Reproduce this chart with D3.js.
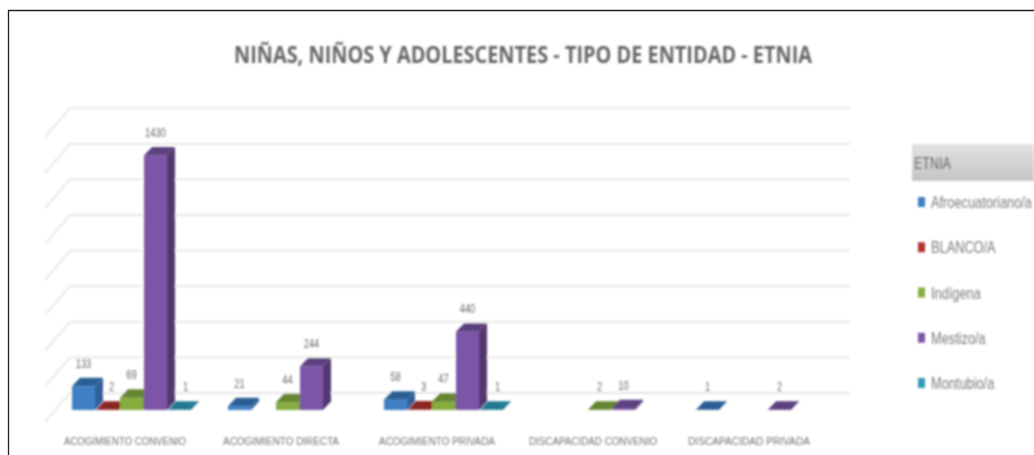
<!DOCTYPE html>
<html><head><meta charset="utf-8">
<script src="https://cdn.jsdelivr.net/npm/d3@7"></script>
<style>html,body{margin:0;padding:0;background:#fff;overflow:hidden}svg{display:block}</style>
</head><body>
<script>
const categories = ["ACOGIMIENTO CONVENIO","ACOGIMIENTO DIRECTA","ACOGIMIENTO PRIVADA","DISCAPACIDAD CONVENIO","DISCAPACIDAD PRIVADA"];
const seriesNames = ["Afroecuatoriano/a","BLANCO/A","Indígena","Mestizo/a","Montubio/a"];
const afro = [133,21,58,null,1];
const blanco = [2,null,3,null,null];
const indigena = [69,44,47,2,null];
const mestizo = [1430,244,440,10,2];
const montubio = [1,null,1,null,null];
const titleText = "NIÑAS, NIÑOS Y ADOLESCENTES - TIPO DE ENTIDAD - ETNIA";
const legendTitle = "ETNIA";
const gridValues = [0,200,400,600,800,1000,1200,1400,1600];
const frontColors = ["#3f7fc4","#b5332e","#86ad3f","#7d55a8","#2f9db8"];
const topColors = ["#2c5f96","#8c2622","#668530","#5d3f80","#237a90"];
const sideColors = ["#2f6199","#8a2724","#668331","#523770","#237488"];
const labelShift = [-3,1,-3,-3,3];

const W=1034,H=455, depthX=8, depthY=17;
const svg=d3.select("body").append("svg").attr("width",W).attr("height",H);
const defs=svg.append("defs");
defs.append("filter").attr("id","soft").attr("x","-5%").attr("y","-5%").attr("width","110%").attr("height","110%")
  .append("feGaussianBlur").attr("stdDeviation",0.85);
const hg=defs.append("linearGradient").attr("id","hdr").attr("x1",0).attr("x2",0).attr("y1",0).attr("y2",1);
hg.append("stop").attr("offset",0).attr("stop-color","#e2e2e2");
hg.append("stop").attr("offset",1).attr("stop-color","#c4c4c4");

svg.append("path").attr("d",`M8.5,${H}V10.5H${W}`).attr("fill","none").attr("stroke","#222").attr("stroke-width",1.3);
const g=svg.append("g").attr("filter","url(#soft)");

const x=d3.scaleBand().domain(categories).range([47,827]);
const inner=d3.scaleBand().domain(seriesNames).range([0,120]);
const y=d3.scaleLinear().domain([0,1600]).range([410,125.2]);
const barX=c=>x(c)+x.bandwidth()/2-53;
const narrow="'Liberation Sans',sans-serif";
// condensed look for real text: horizontal scale about the text's own anchor
const placed=(sel,fx,fy,k)=>sel.attr("transform",(d,i)=>`translate(${fx(d,i)},${fy(d,i)}) scale(${k},1)`);

g.selectAll(".grid").data(gridValues).join("path").attr("fill","none").attr("stroke","#e6e6e6").attr("stroke-width",1.8)
  .attr("d",v=>`M45,${y(v)+12}L70,${y(v)-depthY}H850`);

g.append("text").attr("x",523).attr("y",63).attr("text-anchor","middle").attr("fill","#666")
  .attr("font-family","'Open Sans',sans-serif").attr("font-size",23).attr("font-weight","bold")
  .attr("textLength",578).attr("lengthAdjust","spacingAndGlyphs").text(titleText);

const table=[afro,blanco,indigena,mestizo,montubio];
seriesNames.forEach((s,si)=>{
  const vals=table[si];
  const rows=categories.map((c,i)=>({c,v:vals[i]})).filter(d=>d.v!==null);
  const sg=g.append("g");
  const w=inner.bandwidth()-1;
  const px=d=>barX(d.c)+inner(s);
  sg.selectAll(".side").data(rows).join("path").attr("fill",sideColors[si])
    .attr("d",d=>{const l=px(d)+w,t=y(d.v);return `M${l},${t}l${depthX},-${depthY/2}V${y(0)-depthY/2}l-${depthX},${depthY/2}Z`;});
  sg.selectAll(".front").data(rows).join("rect").attr("fill",frontColors[si])
    .attr("x",px).attr("y",d=>y(d.v)).attr("width",w).attr("height",d=>y(0)-y(d.v));
  sg.selectAll(".top").data(rows).join("path").attr("fill",topColors[si])
    .attr("d",d=>{const l=px(d),t=y(d.v);return `M${l},${t}l${depthX},-${depthY/2}h${w}l-${depthX},${depthY/2}Z`;});
  sg.selectAll(".lab").data(rows).join("text").attr("fill","#6a6a6a")
    .attr("font-family",narrow).attr("font-size",12).attr("text-anchor","middle").text(d=>d.v)
    .call(placed,d=>px(d)+w/2+3+labelShift[si],d=>y(d.v)-depthY/2-10,0.78);
});

g.selectAll(".cat").data(categories).join("text").attr("x",c=>x(c)+x.bandwidth()/2).attr("y",445)
  .attr("text-anchor","middle").attr("fill","#707070").attr("font-family",narrow)
  .attr("font-size",10.5).attr("textLength",c=>c.length*6.1).attr("lengthAdjust","spacingAndGlyphs").text(c=>c);

g.append("rect").attr("x",912).attr("y",144).attr("width",122).attr("height",37).attr("fill","url(#hdr)");
g.selectAll(".lh").data([legendTitle]).join("text").attr("fill","#505050").attr("font-family",narrow).attr("font-size",16).text(d=>d)
  .call(placed,()=>914,()=>169,0.78);
const ly=d3.scalePoint().domain(seriesNames).range([202,383]);
g.selectAll(".lm").data(seriesNames).join("rect").attr("x",918).attr("width",7).attr("height",10)
  .attr("y",s=>ly(s)-5).attr("fill",(s,i)=>frontColors[i]);
g.selectAll(".lt").data(seriesNames).join("text").attr("fill","#7a7a7a")
  .attr("font-family",narrow).attr("font-size",16).text(s=>s)
  .call(placed,()=>931,s=>ly(s)+6,0.8);
</script>
</body></html>
